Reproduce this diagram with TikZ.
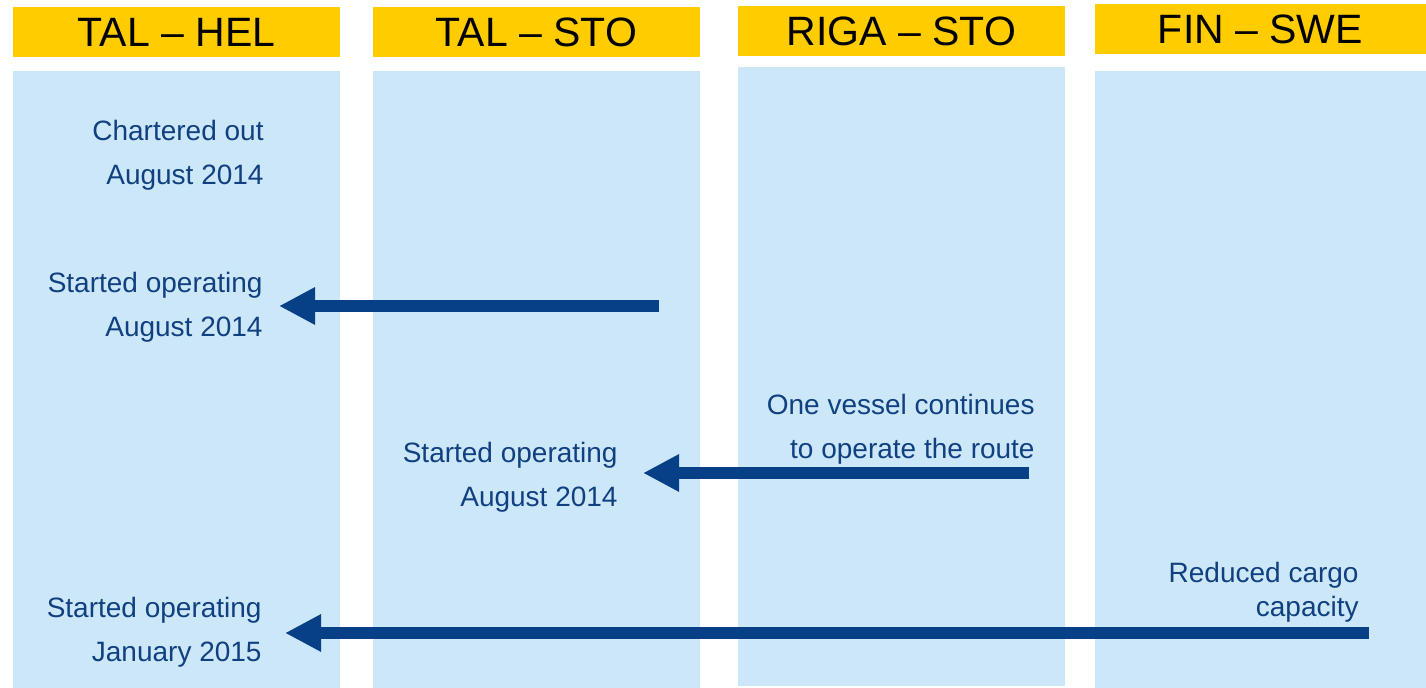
\documentclass[tikz,border=0pt]{standalone}
\usepackage{fontspec}
\setmainfont{Liberation Sans}
\usepackage{tikz}
\usetikzlibrary{positioning,arrows.meta,calc}
\definecolor{routeyellow}{RGB}{255,204,0}
\definecolor{lanebg}{RGB}{204,232,248}
\definecolor{shipnavy}{RGB}{8,64,135}
\definecolor{notenavy}{RGB}{16,64,128}

\begin{document}
\begin{tikzpicture}[x=0.5pt,y=-0.5pt,
    header/.style={fill=routeyellow,minimum width=163.5pt,minimum height=25pt,inner sep=0pt,font=\fontsize{20.5}{24}\selectfont},
    note/.style={anchor=base east,align=right,inner sep=0pt,text=notenavy,font=\fontsize{14}{22}\selectfont},
    move/.style={draw=shipnavy,line width=6pt,-{Triangle[length=18pt,width=17.5pt]}}]
  \useasboundingbox (0,0) rectangle (1426,688);
  \fill[lanebg] (13,71) rectangle (340,688);
  \fill[lanebg] (373,71) rectangle (700,688);
  \fill[lanebg] (738,67) rectangle (1065,686);
  \fill[lanebg] (1095,71) rectangle (1426,688);
  \node[header] (talhel) at (176.5,32) {TAL – HEL};
  \node[header] (talsto) at (536.5,32.5) {TAL – STO};
  \node[header] (rigasto) at (901.5,31) {RIGA – STO};
  \node[header,minimum width=165.5pt] (finswe) at (1260.5,29) {FIN – SWE};
  % base anchor sits on the last line
  \node[note] (charter) at (264,185) {Chartered out\\August 2014};
  \node[note] (starthel) at (263,337) {Started operating\\August 2014};
  \node[note] (startsto) at (618,507) {Started operating\\August 2014};
  \node[note] (vessel) at (1035,459) {One vessel continues\\to operate the route};
  \node[note,font=\fontsize{14}{17}\selectfont] (cargo) at (1359,617) {Reduced cargo\\capacity};
  \node[note] (startjan) at (262,662) {Started operating\\January 2015};
  \coordinate (fromsto) at (659,306);
  \coordinate (tohel) at (279,306);
  \coordinate (fromriga) at (1029,473);
  \coordinate (tosto) at (643,473);
  \coordinate (fromfin) at (1369,633);
  \coordinate (tohelfin) at (285,633);
  \draw[move] (fromsto) -- (tohel);
  \draw[move] (fromriga) -- (tosto);
  \draw[move] (fromfin) -- (tohelfin);
\end{tikzpicture}
\end{document}
